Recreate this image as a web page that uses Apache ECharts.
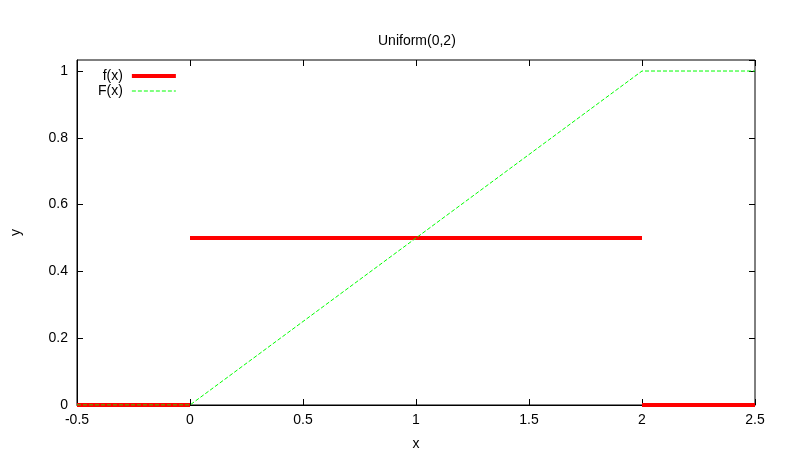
<!DOCTYPE html>
<html>
<head>
<meta charset="utf-8">
<script src="https://cdn.jsdelivr.net/npm/echarts@6/dist/echarts.min.js"></script>
<style>html,body{margin:0;padding:0;background:#fff;}#c{width:793px;height:449px;}</style>
</head>
<body>
<div id="c"></div>
<script>
// f(x) density: segments separated by null
const fX = [-0.5, 0, 0, 0, 2, 2, 2, 2.5];
const fY = [0, 0, null, 0.5, 0.5, null, 0, 0];
// F(x) cumulative distribution
const FX = [-0.5, 0, 2, 2.5];
const FY = [0, 0, 1, 1];
const xTicks = [-0.5, 0, 0.5, 1, 1.5, 2, 2.5];
const yTicks = [0, 0.2, 0.4, 0.6, 0.8, 1];

const fData = fX.map((x, i) => [x, fY[i]]);
const FData = FX.map((x, i) => [x, FY[i]]);
const font = 'Liberation Sans, Arial, sans-serif';
const fs = 14;

const chart = echarts.init(document.getElementById('c'));
const tickStyle = {show: true, inside: true, length: 6, lineStyle: {color: '#000', width: 1}};
chart.setOption({
  animation: false,
  title: {text: 'Uniform(0,2)', left: 373, top: 29,
    textStyle: {fontFamily: font, fontSize: fs, fontWeight: 'normal', color: '#000'}},
  legend: {
    orient: 'vertical', left: 93, top: 64, align: 'right',
    itemWidth: 44, itemHeight: 14, itemGap: 1,
    itemStyle: {opacity: 0},
    textStyle: {fontFamily: font, fontSize: fs, color: '#000', lineHeight: 14, padding: [0, 4, 0, 0]},
    data: [
      {name: 'f(x)', lineStyle: {width: 4, color: '#ff0000'}},
      {name: 'F(x)', lineStyle: {width: 1, color: '#00ff00', type: [4, 2]}}
    ]
  },
  grid: {left: 77, right: 38, top: 60, bottom: 44, show: true, borderColor: '#000', borderWidth: 1,
    containLabel: false, outerBoundsMode: 'none'},
  xAxis: [{
    type: 'value', min: -0.5, max: 2.5, interval: 0.5,
    name: 'x', nameLocation: 'middle', nameGap: 32,
    nameTextStyle: {fontFamily: font, fontSize: fs, color: '#000'},
    axisLine: {show: true, onZero: false, lineStyle: {color: '#000'}},
    axisTick: tickStyle, splitLine: {show: false},
    axisLabel: {fontFamily: font, fontSize: fs, color: '#000', margin: 8,
      formatter: v => String(+v.toFixed(2))}
  }, {
    type: 'value', min: -0.5, max: 2.5, interval: 0.5, position: 'top',
    axisLine: {show: false, onZero: false}, axisTick: tickStyle, axisLabel: {show: false}, splitLine: {show: false}
  }],
  yAxis: [{
    type: 'value', min: 0, max: 1.033, interval: 0.2,
    name: 'y', nameLocation: 'middle', nameGap: 54,
    nameTextStyle: {fontFamily: font, fontSize: fs, color: '#000'},
    axisLine: {show: true, onZero: false, lineStyle: {color: '#000'}},
    axisTick: tickStyle, splitLine: {show: false},
    axisLabel: {fontFamily: font, fontSize: fs, color: '#000', margin: 9, showMaxLabel: false,
      formatter: v => (yTicks.some(t => Math.abs(t - v) < 1e-6) ? String(+v.toFixed(2)) : '')}
  }, {
    type: 'value', min: 0, max: 1.033, interval: 0.2, position: 'right',
    axisLine: {show: false, onZero: false}, axisTick: tickStyle, axisLabel: {show: false}, splitLine: {show: false}
  }],
  series: [{
    name: 'f(x)', type: 'line', data: fData, showSymbol: false, symbol: 'none',
    connectNulls: false, lineStyle: {color: '#ff0000', width: 4}, itemStyle: {color: '#ff0000'}
  }, {
    name: 'F(x)', type: 'line', data: FData, showSymbol: false, symbol: 'none',
    lineStyle: {color: '#00ff00', width: 1, type: [4, 2]}, itemStyle: {color: '#00ff00'}
  }]
});
</script>
</body>
</html>
